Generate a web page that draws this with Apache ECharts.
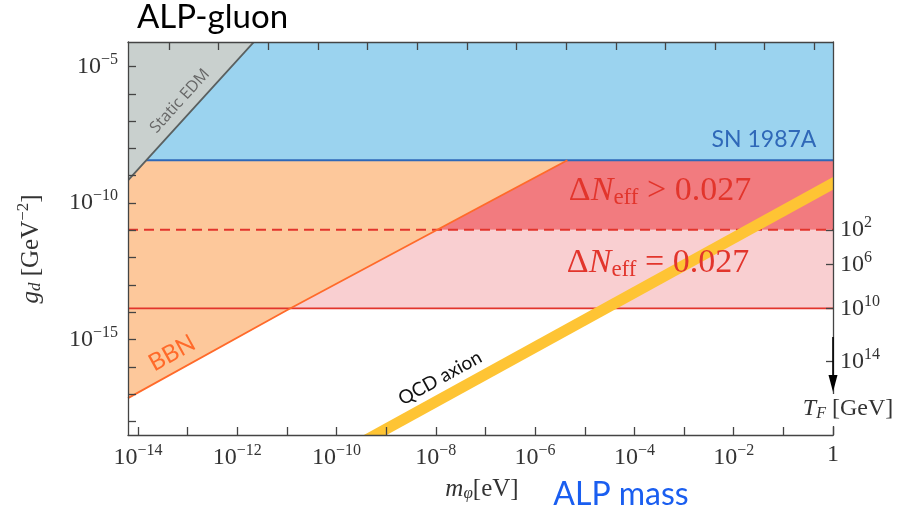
<!DOCTYPE html>
<html>
<head>
<meta charset="utf-8">
<script src="https://cdn.jsdelivr.net/npm/echarts@6/dist/echarts.min.js"></script>
<style>
html,body{margin:0;padding:0;background:#fff;}
#chart{width:909px;height:512px;}
</style>
</head>
<body>
<div id="chart"></div>
<script>
// ---- data (log10 units: mass in eV, coupling in GeV^-2) ----
const xRange = [-14.2, 0];
const yRange = [-18.5, -4.1];
const xTickExps = [-14,-13,-12,-11,-10,-9,-8,-7,-6,-5,-4,-3,-2,-1,0];
const xLabelExps = [-14,-12,-10,-8,-6,-4,-2,0];
const topTickExps = [-13.375,-12.375,-11.375,-10.375,-9.375,-8.375,-7.375,-6.375,-5.375,-4.375,-3.375,-2.375,-1.375,-0.375];
const yTickExps = [-18,-17,-16,-15,-14,-13,-12,-11,-10,-9,-8,-7,-6,-5];
const yLabelExps = [-15,-10,-5];
const tfLabelExps = [2, 6, 10, 14];
const tfLogG = [-10.98, -12.25, -13.86, -15.81];

const snLogG = -8.43;            // SN 1987A bound
const dneffGtLogG = -10.98;      // ΔNeff > 0.027 (dashed)
const dneffEqLogG = -13.86;      // ΔNeff = 0.027 (solid)
const bbnLogM = [-14.2, -11.01, -6.71, -5.35];
const bbnLogG = [-17.15, -13.94, -9.75, -8.43];
const edmLogM = [-14.2, -11.665];
const edmLogG = [-9.17, -4.1];
const qcdLogM = [-10.0, 0.5];
const qcdLogG = [-19.28, -8.78];

// ---- build ----
const serif = 'Liberation Serif';
function zip(a, b){ return a.map((v,i)=>[v, b[i]]); }
function powLabel(e){ return e === 0 ? '{b|1}' : '{b|10}{s|' + (e<0?'−':'') + Math.abs(e) + '}'; }
const labRich = {
  b:{fontFamily:serif,fontSize:24,color:'#333'},
  s:{fontFamily:serif,fontSize:16,color:'#333',padding:[0,0,14,0]}
};
function polySeries(pts, fill, z, stroke, lw){
  return {
    type:'custom', coordinateSystem:'cartesian2d', xAxisIndex:0, yAxisIndex:0,
    data: pts, z: z, clip:true, silent:true,
    renderItem:function(params, api){
      if(params.dataIndex !== 0) return null;
      return {type:'polygon', shape:{points: pts.map(p=>api.coord(p))},
        style:{fill:fill, stroke: stroke || 'none', lineWidth: lw || 0}};
    }
  };
}
function polylineSeries(pts, color, width, z){
  return {
    type:'custom', coordinateSystem:'cartesian2d', xAxisIndex:0, yAxisIndex:0,
    data: pts, z: z, clip:true, silent:true,
    renderItem:function(params, api){
      if(params.dataIndex !== 0) return null;
      return {type:'polyline', shape:{points: pts.map(p=>api.coord(p))},
        style:{fill:'none', stroke: color, lineWidth: width}};
    }
  };
}
function lineSeries(pts, color, width, z, dash){
  return {type:'line', data:pts, xAxisIndex:0, yAxisIndex:0, symbol:'none', z:z, silent:true, clip:true,
    lineStyle:{color:color, width:width, type: dash || 'solid', cap:'butt'}};
}

const pinkPoly = [[xRange[0],dneffEqLogG],[xRange[1],dneffEqLogG],[xRange[1],dneffGtLogG],[xRange[0],dneffGtLogG]];
const redPoly = [[xRange[0],dneffGtLogG],[xRange[1],dneffGtLogG],[xRange[1],snLogG],[xRange[0],snLogG]];
const bluePoly = [[xRange[0],snLogG],[xRange[1],snLogG],[xRange[1],yRange[1]],[xRange[0],yRange[1]]];
const orangePoly = zip(bbnLogM,bbnLogG).concat([[xRange[0], snLogG]]);
const edmPoly = zip(edmLogM,edmLogG).concat([[xRange[0], yRange[1]]]);

const frame = '#444';
const red = '#e2352c';
const dRich = {
  a:{fontFamily:serif,fontSize:34,fill:red},
  n:{fontFamily:serif,fontStyle:'italic',fontSize:34,fill:red},
  e:{fontFamily:serif,fontSize:23,fill:red,padding:[13,0,0,0]}
};
const option = {
  animation:false,
  grid:{left:128,right:76,top:42,bottom:77,containLabel:false},
  xAxis:[
    {type:'value',position:'bottom',min:xRange[0],max:xRange[1],z:10,
     axisLine:{show:true,onZero:false,lineStyle:{color:frame,width:1.3}},
     axisTick:{show:true,inside:true,length:8,customValues:xTickExps,lineStyle:{color:frame,width:1.3}},
     axisLabel:{show:true,margin:8,customValues:xLabelExps,formatter:v=>powLabel(Math.round(v)),rich:labRich},
     splitLine:{show:false}},
    {type:'value',position:'top',min:xRange[0],max:xRange[1],z:10,
     axisLine:{show:true,onZero:false,lineStyle:{color:frame,width:1.3}},
     axisTick:{show:true,inside:true,length:8,customValues:topTickExps,lineStyle:{color:frame,width:1.3}},
     axisLabel:{show:false},splitLine:{show:false}}
  ],
  yAxis:[
    {type:'value',position:'left',min:yRange[0],max:yRange[1],z:10,
     axisLine:{show:true,onZero:false,lineStyle:{color:frame,width:1.3}},
     axisTick:{show:true,inside:true,length:8,customValues:yTickExps,lineStyle:{color:frame,width:1.3}},
     axisLabel:{show:true,margin:10,customValues:yLabelExps,formatter:v=>powLabel(Math.round(v)),rich:labRich},
     splitLine:{show:false}},
    {type:'value',position:'right',min:yRange[0],max:yRange[1],z:10,
     axisLine:{show:true,onZero:false,lineStyle:{color:frame,width:1.3}},
     axisTick:{show:true,inside:true,length:7,customValues:tfLogG,lineStyle:{color:frame,width:1.3}},
     axisLabel:{show:true,margin:7,customValues:tfLogG,
       formatter:v=>{ const i = tfLogG.findIndex(t=>Math.abs(t-v)<1e-6); return i<0?'':'{b|10}{s|'+tfLabelExps[i]+'}'; },
       rich:labRich},
     splitLine:{show:false}}
  ],
  series:[
    polySeries(pinkPoly,'#f9cfd1',1),
    polySeries(redPoly,'#f27b7f',1),
    polySeries(bluePoly,'#9bd3ef',1),
    polySeries(orangePoly,'#fdc89b',2),
    lineSeries([[xRange[0],snLogG],[xRange[1],snLogG]],'#2f68b8',2,3),
    lineSeries([[xRange[0],dneffGtLogG],[xRange[1],dneffGtLogG]],red,1.8,3,[10,6]),
    lineSeries([[xRange[0],dneffEqLogG],[xRange[1],dneffEqLogG]],red,1.8,3),
    lineSeries(zip(bbnLogM,bbnLogG),'#ff6a2a',1.8,3),
    polySeries(edmPoly,'#c9d0ce',4,'#5a6060',1.8),
    polylineSeries(zip(qcdLogM,qcdLogG),'#fec434',11,5)
  ],
  graphic:[
    {type:'text',left:137,top:1,style:{text:'ALP-gluon',font:'33px Lato',fill:'#000'}},
    {type:'text',x:180,y:101,rotation:47.8*Math.PI/180,style:{text:'Static EDM',x:0,y:0,align:'center',verticalAlign:'middle',font:'16px "Open Sans"',fill:'#666'},z:20},
    {type:'text',x:764,y:140,style:{text:'SN 1987A',x:0,y:0,align:'center',verticalAlign:'middle',font:'23px Lato',fill:'#2f68b8'},z:20},
    {type:'text',x:660,y:191,style:{x:0,y:0,align:'center',verticalAlign:'middle',
      text:'{a|Δ}{n|N}{e|eff}{a| > 0.027}',rich:dRich},z:20},
    {type:'text',x:658,y:263,style:{x:0,y:0,align:'center',verticalAlign:'middle',
      text:'{a|Δ}{n|N}{e|eff}{a| = 0.027}',rich:dRich},z:20},
    {type:'text',x:172,y:353,rotation:29*Math.PI/180,style:{text:'BBN',x:0,y:0,align:'center',verticalAlign:'middle',font:'24px Lato',fill:'#ff6a2a'},z:20},
    {type:'text',x:440,y:378,rotation:29*Math.PI/180,style:{text:'QCD axion',x:0,y:0,align:'center',verticalAlign:'middle',font:'19px Lato',fill:'#111'},z:20},
    {type:'text',x:31,y:249,rotation:Math.PI/2,style:{x:0,y:0,align:'center',verticalAlign:'middle',
      text:'{i|g}{d|d}{r| [GeV}{s|−2}{r|]}',
      rich:{i:{fontFamily:serif,fontStyle:'italic',fontSize:25,fill:'#333'},d:{fontFamily:serif,fontStyle:'italic',fontSize:17,fill:'#333',padding:[10,0,0,0]},
            r:{fontFamily:serif,fontSize:25,fill:'#333'},s:{fontFamily:serif,fontSize:17,fill:'#333',padding:[0,0,14,0]}}},z:20},
    {type:'text',x:482,y:489,style:{x:0,y:0,align:'center',verticalAlign:'middle',
      text:'{i|m}{d|φ}{r|[eV]}',
      rich:{i:{fontFamily:serif,fontStyle:'italic',fontSize:25,fill:'#333'},d:{fontFamily:serif,fontStyle:'italic',fontSize:17,fill:'#333',padding:[10,0,0,0]},
            r:{fontFamily:serif,fontSize:25,fill:'#333'}}},z:20},
    {type:'text',x:621,y:495,style:{text:'ALP mass',x:0,y:0,align:'center',verticalAlign:'middle',font:'32px Lato',fill:'#1a5ef0'},z:20},
    {type:'rect',shape:{x:798,y:394,width:105,height:32},style:{fill:'#fff'},z:19},
    {type:'text',x:848,y:409,style:{x:0,y:0,align:'center',verticalAlign:'middle',
      text:'{i|T}{d|F}{r| [GeV]}',
      rich:{i:{fontFamily:serif,fontStyle:'italic',fontSize:24,fill:'#333'},d:{fontFamily:serif,fontStyle:'italic',fontSize:16,fill:'#333',padding:[9,0,0,0]},
            r:{fontFamily:serif,fontSize:24,fill:'#333'}}},z:20},
    {type:'line',shape:{x1:833,y1:337,x2:833,y2:380},style:{stroke:'#000',lineWidth:1.6},z:21},
    {type:'polygon',shape:{points:[[828.5,375],[837.5,375],[833,392]]},style:{fill:'#000'},z:21}
  ]
};
const chart = echarts.init(document.getElementById('chart'),null,{renderer:'canvas'});
chart.setOption(option);
</script>
</body>
</html>
